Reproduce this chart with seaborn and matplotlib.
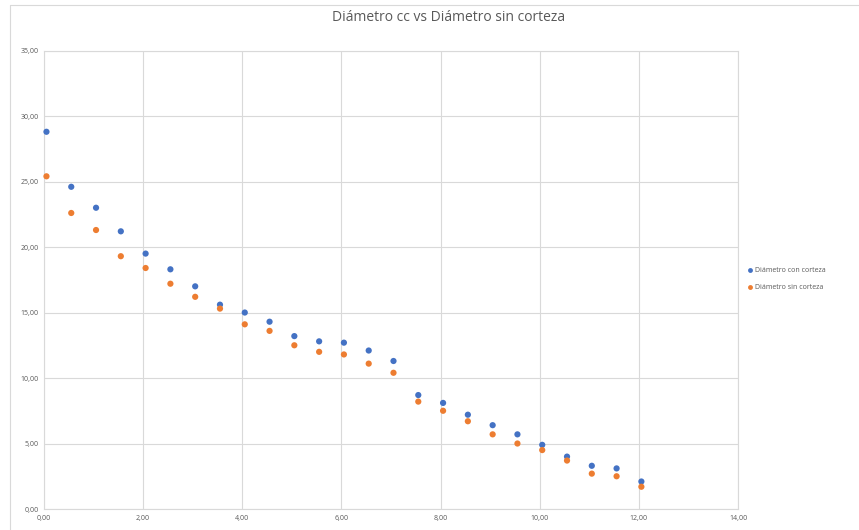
import numpy as np
import pandas as pd
import seaborn as sns
import matplotlib.pyplot as plt
from matplotlib.lines import Line2D

# data
x_vals = [0.05, 0.55, 1.05, 1.55, 2.05, 2.55, 3.05, 3.55, 4.05, 4.55, 5.05, 5.55, 6.05,
          6.55, 7.05, 7.55, 8.05, 8.55, 9.05, 9.55, 10.05, 10.55, 11.05, 11.55, 12.05]
diam_cc = [28.8, 24.6, 23.0, 21.2, 19.5, 18.3, 17.0, 15.6, 15.0, 14.3, 13.2, 12.8, 12.7,
           12.1, 11.3, 8.7, 8.1, 7.2, 6.4, 5.7, 4.9, 4.0, 3.3, 3.1, 2.1]
diam_sc = [25.4, 22.6, 21.3, 19.3, 18.4, 17.2, 16.2, 15.3, 14.1, 13.6, 12.5, 12.0, 11.8,
           11.1, 10.4, 8.2, 7.5, 6.7, 5.7, 5.0, 4.5, 3.7, 2.7, 2.5, 1.7]
series_names = ['Diámetro con corteza', 'Diámetro sin corteza']
x_ticks = [0, 2, 4, 6, 8, 10, 12, 14]
y_ticks = [0, 5, 10, 15, 20, 25, 30, 35]

df = pd.DataFrame({
    'x': x_vals * 2,
    'y': diam_cc + diam_sc,
    'serie': [series_names[0]] * len(x_vals) + [series_names[1]] * len(x_vals),
})

sns.set_style('white')
plt.rcParams['font.family'] = ['Open Sans', 'DejaVu Sans']

fig = plt.figure(figsize=(8.59, 5.30), dpi=100)
ax = fig.add_axes([0.0512, 0.0396, 0.808, 0.865])

sns.scatterplot(data=df, x='x', y='y', hue='serie', ax=ax,
                palette=['#4472C4', '#ED7D31'], s=20, edgecolor='none',
                legend=False, zorder=3, clip_on=False)

ax.set_xlim(0, 14)
ax.set_ylim(0, 35)
ax.set_xticks(x_ticks)
ax.set_yticks(y_ticks)
ax.set_xticklabels([f'{v:.2f}'.replace('.', ',') for v in x_ticks])
ax.set_yticklabels([f'{v:.2f}'.replace('.', ',') for v in y_ticks])
ax.tick_params(axis='both', length=0, labelsize=5, colors='#595959', pad=4)
ax.grid(True, color='#d9d9d9', linewidth=0.8)
ax.set_axisbelow(True)
for s in ax.spines.values():
    s.set_color('#d9d9d9')
    s.set_linewidth(0.8)
ax.set_xlabel('')
ax.set_ylabel('')

fig.suptitle('Diámetro cc vs Diámetro sin corteza', x=0.522, y=0.982,
             fontsize=10, color='#595959')

handles = [Line2D([], [], marker='o', linestyle='', markersize=3.5,
                  markerfacecolor=c, markeredgecolor='none')
           for c in ['#4472C4', '#ED7D31']]
fig.legend(handles, series_names, loc='center left',
           bbox_to_anchor=(0.862, 0.473), frameon=False, fontsize=5,
           labelcolor='#595959', handletextpad=0.2, labelspacing=1.4,
           handlelength=1.0)

# chart border (left and top edges visible in the reference)
fig.add_artist(Line2D([0.012, 0.012], [0.0, 0.99], color='#d9d9d9', lw=0.8))
fig.add_artist(Line2D([0.012, 1.0], [0.99, 0.99], color='#d9d9d9', lw=0.8))

fig.savefig('out.png', dpi=100)
